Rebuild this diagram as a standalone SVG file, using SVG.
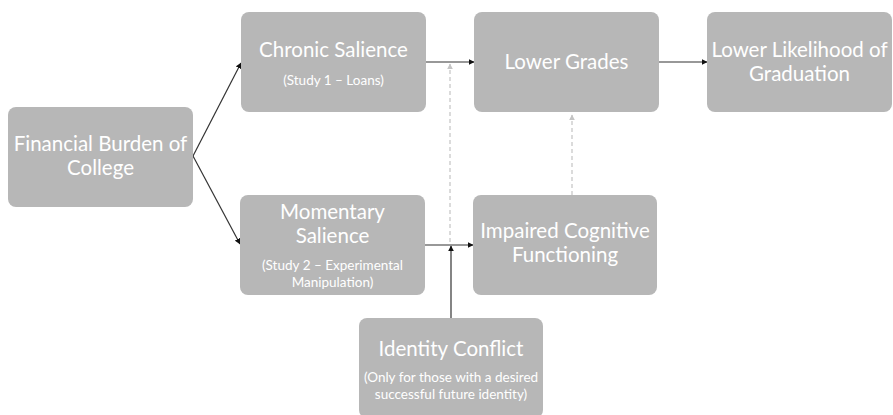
<svg xmlns="http://www.w3.org/2000/svg" width="893" height="415" viewBox="0 0 893 415">
<defs>
<style>
.box{fill:#b7b7b7;}
.t{font-family:Lato,"Open Sans","Liberation Sans",sans-serif;fill:#ffffff;text-anchor:middle;font-size:20.5px;}
.s{font-family:Lato,"Open Sans","Liberation Sans",sans-serif;fill:#ffffff;text-anchor:middle;font-size:13.5px;}
.c{stroke:#333333;stroke-width:1.2;fill:none;marker-end:url(#ah);}
.d{stroke:#c4c4c4;stroke-width:1.2;fill:none;stroke-dasharray:4 3;marker-end:url(#ahd);}
</style>
<marker id="ah" viewBox="0 0 10 10" refX="9" refY="5" markerWidth="6" markerHeight="6" markerUnits="userSpaceOnUse" orient="auto">
<path d="M0,0 L10,5 L0,10 z" fill="#111111"/>
</marker>
<marker id="ahd" viewBox="0 0 10 10" refX="9" refY="5" markerWidth="6" markerHeight="6" markerUnits="userSpaceOnUse" orient="auto">
<path d="M0,0 L10,5 L0,10 z" fill="#c4c4c4"/>
</marker>
</defs>
<rect width="893" height="415" fill="#ffffff"/>
<g id="connectors">
<line class="c" x1="193" y1="156" x2="241" y2="63"/>
<line class="c" x1="193" y1="156" x2="240" y2="244"/>
<line class="c" x1="426" y1="62" x2="474" y2="62"/>
<line class="c" x1="659" y1="62" x2="707" y2="62"/>
<line class="c" x1="425" y1="245" x2="473" y2="245"/>
<line class="c" x1="451" y1="318" x2="451" y2="246"/>
<line class="d" x1="450" y1="242" x2="450" y2="64"/>
<line class="d" x1="572" y1="195" x2="572" y2="115"/>
</g>
<g id="financial">
<rect class="box" x="8" y="107" width="185" height="100" rx="8"/>
<text class="t" x="100.5" y="151">Financial Burden of</text>
<text class="t" x="100.5" y="175">College</text>
</g>
<g id="chronic">
<rect class="box" x="241" y="12" width="185" height="100" rx="8"/>
<text class="t" x="333.5" y="57">Chronic Salience</text>
<text class="s" x="333.5" y="85">(Study 1 – Loans)</text>
</g>
<g id="momentary">
<rect class="box" x="240" y="195" width="185" height="100" rx="8"/>
<text class="t" x="332.5" y="219">Momentary</text>
<text class="t" x="332.5" y="243">Salience</text>
<text class="s" x="332.5" y="270">(Study 2 – Experimental</text>
<text class="s" x="332.5" y="287">Manipulation)</text>
</g>
<g id="lowergrades">
<rect class="box" x="474" y="12" width="185" height="100" rx="8"/>
<text class="t" x="566.5" y="69">Lower Grades</text>
</g>
<g id="graduation">
<rect class="box" x="707" y="12" width="185" height="100" rx="8"/>
<text class="t" x="799.5" y="57">Lower Likelihood of</text>
<text class="t" x="799.5" y="81">Graduation</text>
</g>
<g id="impaired">
<rect class="box" x="473" y="195" width="184" height="100" rx="8"/>
<text class="t" x="565" y="238">Impaired Cognitive</text>
<text class="t" x="565" y="262">Functioning</text>
</g>
<g id="identity">
<rect class="box" x="359" y="318" width="184" height="100" rx="8"/>
<text class="t" x="451" y="356">Identity Conflict</text>
<text class="s" x="451" y="382">(Only for those with a desired</text>
<text class="s" x="451" y="399">successful future identity)</text>
</g>
</svg>
